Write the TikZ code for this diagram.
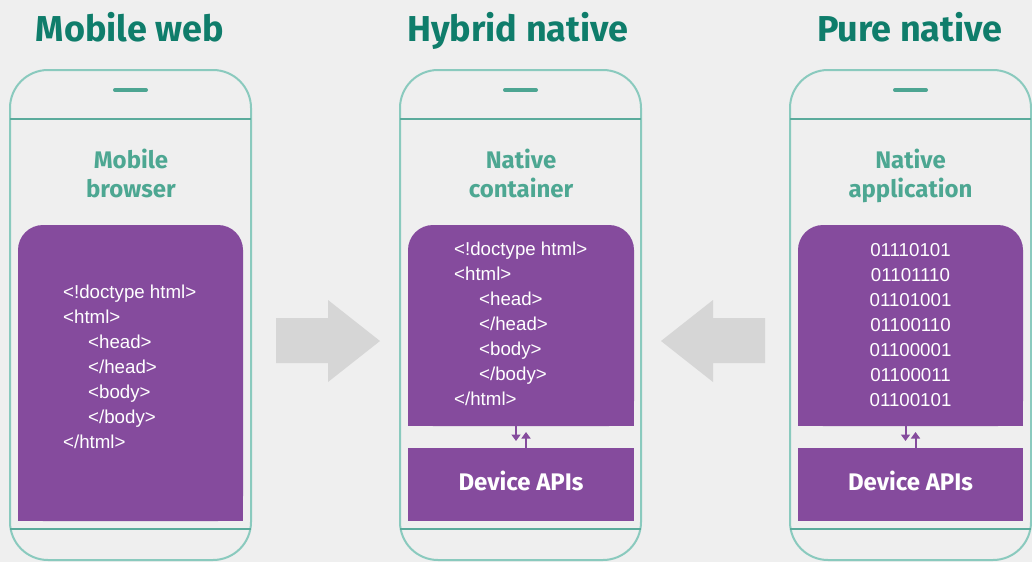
\documentclass[tikz,border=0pt]{standalone}
\usepackage{fontspec}
\setmainfont{Liberation Sans}
\newfontfamily\headfont{Fira Sans}
\usetikzlibrary{arrows.meta}
\definecolor{bgc}{HTML}{EFEFEF}
\definecolor{titlec}{HTML}{0F7D6B}
\definecolor{subc}{HTML}{4DA792}
\definecolor{phonec}{HTML}{8ACABE}
\definecolor{sepc}{HTML}{5BAB9C}
\definecolor{barc}{HTML}{4DA592}
\definecolor{purp}{HTML}{854B9D}
\definecolor{grayarr}{HTML}{D6D6D6}
\tikzset{
  phone/.style={draw=phonec, line width=2pt, rounded corners=38pt},
  sepline/.style={draw=sepc, line width=2pt},
  speaker/.style={draw=barc, line width=4pt, line cap=round},
  titletext/.style={font=\headfont\bfseries\fontsize{36}{40}\selectfont, text=titlec, inner sep=0pt, anchor=base},
  subtext/.style={font=\headfont\bfseries\fontsize{24}{28.5}\selectfont, text=subc, align=center, inner sep=0pt},
  boxarea/.style={inner sep=0pt, outer sep=0pt},
  codetext/.style={font=\fontsize{18.7}{25}\selectfont, text=white, align=left, inner sep=0pt, anchor=north west},
  bintext/.style={font=\fontsize{18.7}{25}\selectfont, text=white, align=center, inner sep=0pt, anchor=north},
  apibox/.style={fill=purp, inner sep=0pt, outer sep=0pt, text height=15pt, text depth=4pt, font=\headfont\bfseries\fontsize{24}{28}\selectfont, text=white},
  apiarrow/.style={draw=purp, line width=2pt, -{Triangle[width=9pt,length=6.5pt]}},
  bigarrow/.style={fill=grayarr}
}
\begin{document}
\begin{tikzpicture}[x=1pt,y=-1pt]
\fill[bgc] (0,0) rectangle (1032,562);
\useasboundingbox (0,0) rectangle (1032,562);

% phones
\foreach \ox in {0,390,780}{
  \draw[phone] (\ox+10,70) rectangle (\ox+251,560);
  \draw[sepline] (\ox+10,119) -- (\ox+251,119);
  \draw[sepline] (\ox+10,529) -- (\ox+251,529);
  \draw[speaker] (\ox+115,90) -- (\ox+146,90);
}

% titles
\node[titletext] (t1) at (130,41.5) {Mobile web};
\node[titletext] (t2) at (518,41.5) {Hybrid native};
\node[titletext] (t3) at (910,41.5) {Pure native};

% subtitles
\node[subtext] (s1) at (131,177.3) {Mobile\strut\\browser\strut};
\node[subtext] (s2) at (521,177.3) {Native\strut\\container\strut};
\node[subtext] (s3) at (910.5,177.3) {Native\strut\\application\strut};

% phone 1 box
\node[boxarea, minimum width=225pt, minimum height=296pt] (box1) at (130.5,373) {};
\fill[purp, rounded corners=25pt] (box1.north west) rectangle (box1.south east);
\fill[purp] ([yshift=40pt]box1.south west) rectangle (box1.south east);
\node[codetext] (c1) at (63,285) {<!doctype html>\\<html>\\\hspace*{25pt}<head>\\\hspace*{25pt}</head>\\\hspace*{25pt}<body>\\\hspace*{25pt}</body>\\</html>};

% phone 2 boxes
\node[boxarea, minimum width=226pt, minimum height=201pt] (box2) at (521,325.5) {};
\fill[purp, rounded corners=25pt] (box2.north west) rectangle (box2.south east);
\fill[purp] ([yshift=40pt]box2.south west) rectangle (box2.south east);
\node[codetext] (c2) at (454,242) {<!doctype html>\\<html>\\\hspace*{25pt}<head>\\\hspace*{25pt}</head>\\\hspace*{25pt}<body>\\\hspace*{25pt}</body>\\</html>};
\node[apibox, minimum width=226pt, minimum height=73pt] (api2) at (521,484.5) {Device APIs};
\draw[apiarrow] ([xshift=-5pt]box2.south) -- ([xshift=-5pt,yshift=-15pt]box2.south);
\draw[apiarrow] ([xshift=5pt]api2.north) -- ([xshift=5pt,yshift=16pt]api2.north);

% phone 3 boxes
\node[boxarea, minimum width=225pt, minimum height=201pt] (box3) at (910.5,325.5) {};
\fill[purp, rounded corners=25pt] (box3.north west) rectangle (box3.south east);
\fill[purp] ([yshift=40pt]box3.south west) rectangle (box3.south east);
\node[bintext] (c3) at (910.5,243.5) {01110101\\01101110\\01101001\\01100110\\01100001\\01100011\\01100101};
\node[apibox, minimum width=225pt, minimum height=73pt] (api3) at (910.5,484.5) {Device APIs};
\draw[apiarrow] ([xshift=-5pt]box3.south) -- ([xshift=-5pt,yshift=-15pt]box3.south);
\draw[apiarrow] ([xshift=5pt]api3.north) -- ([xshift=5pt,yshift=16pt]api3.north);

% big gray arrows
\fill[bigarrow] (276,318) -- (328,318) -- (328,300) -- (380,341) -- (328,382) -- (328,363) -- (276,363) -- cycle;
\fill[bigarrow] (765,318) -- (713,318) -- (713,300) -- (661,341) -- (713,382) -- (713,363) -- (765,363) -- cycle;
\end{tikzpicture}
\end{document}
